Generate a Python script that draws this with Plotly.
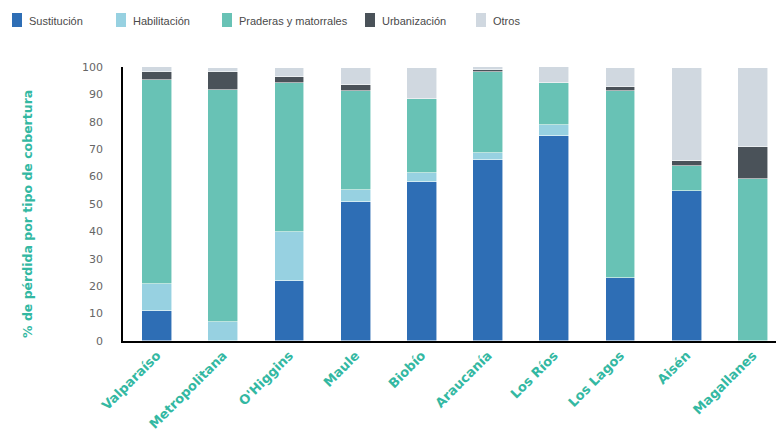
import plotly.graph_objects as go

# Regions (x categories)
regiones = ["Valparaíso", "Metropolitana", "O'Higgins", "Maule", "Biobío",
            "Araucanía", "Los Ríos", "Los Lagos", "Aisén", "Magallanes"]

# % of loss by cover type, per region
sustitucion = [11.0, 0.0, 21.8, 50.6, 58.1, 65.9, 74.8, 22.9, 54.7, 0.0]
habilitacion = [9.7, 6.8, 18.0, 4.5, 3.2, 2.6, 4.0, 0.0, 0.0, 0.0]
praderas = [74.6, 84.9, 54.5, 36.0, 26.9, 29.8, 15.5, 68.2, 9.3, 59.2]
urbanizacion = [2.7, 6.3, 1.9, 2.2, 0.0, 0.7, 0.0, 1.6, 1.6, 11.5]
otros = [2.0, 1.8, 3.6, 6.5, 11.6, 1.0, 5.6, 7.1, 34.0, 29.1]

y_ticks = [0, 10, 20, 30, 40, 50, 60, 70, 80, 90, 100]

series = [
    ("Sustitución", sustitucion, "#2E6EB5"),
    ("Habilitación", habilitacion, "#97D1E1"),
    ("Praderas y matorrales", praderas, "#68C2B5"),
    ("Urbanización", urbanizacion, "#4A5259"),
    ("Otros", otros, "#D0D8E0"),
]

TEAL = "#33B8A2"
W, H = 776, 432
ML, MR, MT, MB = 123, 0, 67, 91
PW, PH = W - ML - MR, H - MT - MB


def px_x(px):
    return (px - ML) / PW


def px_y(py):
    return (H - MB - py) / PH


fig = go.Figure()
for name, vals, color in series:
    fig.add_trace(go.Bar(
        x=list(range(len(regiones))), y=vals, name=name,
        marker=dict(color=color, line=dict(color="rgba(255,255,255,0.7)", width=0.8)),
        width=0.45, showlegend=False,
    ))

# Legend row drawn along the top edge
legend_left = [12, 116, 222, 365, 476]
shapes = []
annotations = []
for (name, _, color), lx in zip(series, legend_left):
    shapes.append(dict(type="rect", xref="paper", yref="paper",
                       x0=px_x(lx), x1=px_x(lx + 10), y0=px_y(27), y1=px_y(13),
                       fillcolor=color, line=dict(width=0)))
    annotations.append(dict(xref="paper", yref="paper", x=px_x(lx + 15), y=px_y(20.5),
                            text=name, showarrow=False, xanchor="left", yanchor="middle",
                            font=dict(family="Liberation Sans, Arial, sans-serif",
                                      size=11, color="#4a4a4a")))

# Vertical axis title
annotations.append(dict(xref="paper", yref="paper", x=px_x(27), y=px_y(214),
                        text="% de pérdida por tipo de cobertura", textangle=-90,
                        showarrow=False, xanchor="center", yanchor="middle",
                        font=dict(family="DejaVu Sans, sans-serif", size=12.5,
                                  color=TEAL, weight="bold")))

fig.update_layout(
    width=W, height=H, autosize=False,
    margin=dict(l=ML, r=MR, t=MT, b=MB),
    paper_bgcolor="white", plot_bgcolor="white",
    barmode="stack", bargap=0,
    shapes=shapes, annotations=annotations,
)

fig.update_xaxes(
    range=[-0.514, 9.35], tickmode="array", automargin=False,
    tickvals=list(range(len(regiones))), ticktext=regiones,
    tickangle=-45, showline=True, linecolor="black", linewidth=1.5,
    showgrid=False, zeroline=False, ticks="",
    tickfont=dict(family="DejaVu Sans, sans-serif", size=13, color=TEAL, weight="bold"),
)
fig.update_yaxes(
    range=[0, 100], tickmode="array", tickvals=y_ticks, automargin=False,
    showline=True, linecolor="black", linewidth=1.5,
    showgrid=False, zeroline=False, ticks="", ticklabelstandoff=16,
    tickfont=dict(family="DejaVu Sans, sans-serif", size=11, color="#666666"),
)

fig.write_html("out.html")
